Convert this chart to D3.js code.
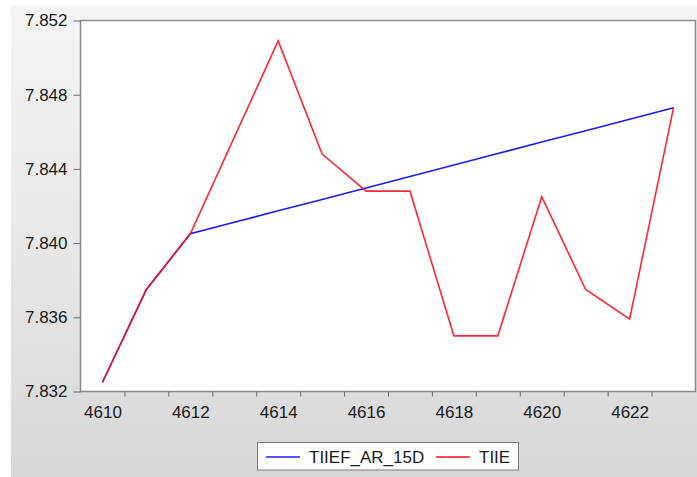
<!DOCTYPE html>
<html>
<head>
<meta charset="utf-8">
<script src="https://cdn.jsdelivr.net/npm/d3@7"></script>
<style>
  html, body { margin: 0; padding: 0; background: #ffffff; }
  svg { display: block; }
  text { font-family: "Liberation Sans", Arial, sans-serif; fill: #1a1a1a; }
</style>
</head>
<body>
<svg id="chart" width="697" height="477"></svg>
<script>
// Observation index
const observations = [4610, 4611, 4612, 4613, 4614, 4615, 4616, 4617, 4618, 4619, 4620, 4621, 4622, 4623];

// Forecast series
const tiiefAr15d = [7.8325, 7.8375, 7.8405, 7.84112, 7.84174, 7.84235, 7.84297, 7.84359, 7.84421, 7.84483, 7.84545, 7.84606, 7.84668, 7.8473];

// Actual series
const tiie = [7.8325, 7.8375, 7.8405, 7.8457, 7.8509, 7.8448, 7.8428, 7.8428, 7.8350, 7.8350, 7.8425, 7.8375, 7.8359, 7.8473];

// Axis labels
const yTicks = [7.832, 7.836, 7.840, 7.844, 7.848, 7.852];
const xLabels = [4610, 4612, 4614, 4616, 4618, 4620, 4622];

const seriesNames = ["TIIEF_AR_15D", "TIIE"];
const seriesColors = ["#1a1aff", "#ff1020"];

const W = 697, H = 477;
const plot = { left: 80.5, right: 695.5, top: 20.5, bottom: 391.5 };

const svg = d3.select("#chart");

// Frame background with soft vertical gradient
const defs = svg.append("defs");
const grad = defs.append("linearGradient")
  .attr("id", "frameGrad").attr("x1", 0).attr("y1", 0).attr("x2", 0).attr("y2", 1);
grad.append("stop").attr("offset", "0%").attr("stop-color", "#f4f4f4");
grad.append("stop").attr("offset", "45%").attr("stop-color", "#e9e9e9");
grad.append("stop").attr("offset", "100%").attr("stop-color", "#d7d7d7");

svg.append("rect").attr("x", 0).attr("y", 0).attr("width", W).attr("height", H).attr("fill", "#ffffff");
svg.append("rect").attr("x", 11).attr("y", 6).attr("width", W - 11).attr("height", H - 6)
  .attr("fill", "url(#frameGrad)");

// Plot area
svg.append("rect")
  .attr("x", plot.left).attr("y", plot.top)
  .attr("width", plot.right - plot.left).attr("height", plot.bottom - plot.top)
  .attr("fill", "#ffffff");

const x = d3.scaleLinear()
  .domain([observations[0] - 0.5, observations[observations.length - 1] + 0.5])
  .range([plot.left, plot.right]);

const y = d3.scaleLinear()
  .domain([yTicks[0], yTicks[yTicks.length - 1]])
  .range([plot.bottom, plot.top]);

// Lines
const line = d3.line()
  .x((d, i) => x(observations[i]))
  .y(d => y(d));

svg.append("path")
  .datum(tiiefAr15d)
  .attr("d", line)
  .attr("fill", "none")
  .attr("stroke", seriesColors[0])
  .attr("stroke-width", 1.6)
  .attr("stroke-linejoin", "miter");

svg.append("path")
  .datum(tiie)
  .attr("d", line)
  .attr("fill", "none")
  .attr("stroke", seriesColors[1])
  .attr("stroke-opacity", 0.9)
  .attr("stroke-width", 1.6)
  .attr("stroke-linejoin", "miter");

// Plot border
svg.append("rect")
  .attr("x", plot.left).attr("y", plot.top)
  .attr("width", plot.right - plot.left).attr("height", plot.bottom - plot.top)
  .attr("fill", "none")
  .attr("stroke", "#8a8a8a")
  .attr("stroke-width", 1.5);

// Y axis
const yAxis = d3.axisLeft(y)
  .tickValues(yTicks)
  .tickFormat(d3.format(".3f"))
  .tickSize(7)
  .tickPadding(6);

const gy = svg.append("g")
  .attr("transform", `translate(${plot.left},0)`)
  .call(yAxis);
gy.select(".domain").remove();
gy.selectAll(".tick line").attr("stroke", "#6a6a6a").attr("stroke-width", 1);
gy.selectAll(".tick text").style("font-size", "17px").attr("fill", "#1a1a1a");

// X axis: tick marks on observation boundaries
const boundaries = observations.slice(0, -1).map(d => d + 0.5);
const gxTicks = svg.append("g")
  .attr("transform", `translate(0,${plot.bottom})`)
  .call(d3.axisBottom(x).tickValues(boundaries).tickFormat("").tickSize(5));
gxTicks.select(".domain").remove();
gxTicks.selectAll(".tick line").attr("stroke", "#6a6a6a").attr("stroke-width", 1);

// X axis: labels centred on observations
const gxLabels = svg.append("g")
  .attr("transform", `translate(0,${plot.bottom})`)
  .call(d3.axisBottom(x).tickValues(xLabels).tickFormat(d3.format("d")).tickSize(0).tickPadding(14));
gxLabels.select(".domain").remove();
gxLabels.selectAll(".tick text").style("font-size", "17px").attr("fill", "#1a1a1a");

// Legend
const legend = svg.append("g").attr("transform", "translate(257.5,442.5)");
legend.append("rect")
  .attr("width", 261).attr("height", 27.5)
  .attr("fill", "#ffffff")
  .attr("stroke", "#7a7a7a").attr("stroke-width", 1);

const legendItems = [
  { name: seriesNames[0], color: seriesColors[0], x0: 8.5 },
  { name: seriesNames[1], color: seriesColors[1], x0: 178.5 }
];
legendItems.forEach(item => {
  legend.append("line")
    .attr("x1", item.x0).attr("x2", item.x0 + 34)
    .attr("y1", 14.5).attr("y2", 14.5)
    .attr("stroke", item.color).attr("stroke-width", 1.4);
  legend.append("text")
    .attr("x", item.x0 + 43).attr("y", 20.5)
    .style("font-size", "17px")
    .text(item.name);
});
</script>
</body>
</html>
